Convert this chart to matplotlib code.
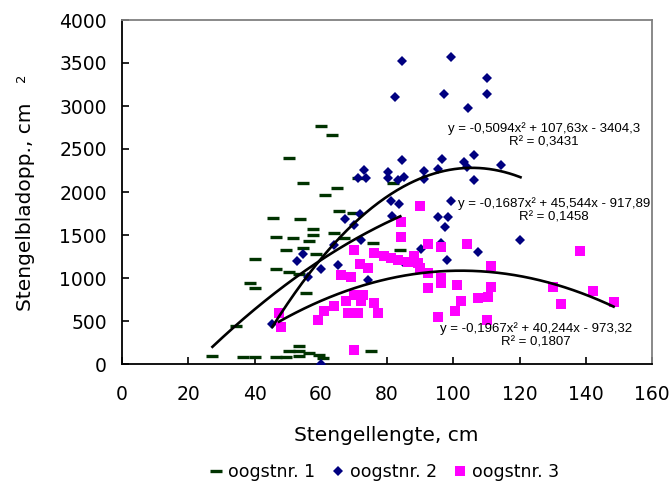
import numpy as np
import matplotlib
matplotlib.use("Agg")
import matplotlib.pyplot as plt
from matplotlib.lines import Line2D

# Harvest 1 (oogstnr. 1)
len_1 = [60.0, 63.3, 50.3, 54.5, 64.8, 61.2, 65.5, 45.5, 53.6, 57.6, 57.6, 46.4,
         51.5, 56.4, 69.7, 63.9, 67.0, 49.4, 54.5, 58.5, 75.8, 84.0, 40.3, 46.4,
         50.3, 53.3, 38.5, 40.3, 55.5, 34.5, 27.3, 36.4, 40.3, 46.4, 49.4, 53.3,
         50.3, 53.3, 56.4, 53.3, 59.4, 60.6, 75.2, 71.2, 81.8]
area_1 = [2767, 2663, 2395, 2105, 2047, 1965, 1779, 1698, 1686, 1570, 1500, 1477,
          1465, 1430, 1756, 1523, 1465, 1326, 1349, 1279, 1407, 1326, 1221, 1105,
          1070, 1047, 942, 884, 826, 442, 93, 81, 81, 81, 81, 209,
          151, 151, 128, 93, 105, 70, 151, 2163, 2105]

# Harvest 2 (oogstnr. 2)
len_2 = [84.5, 99.4, 110.3, 82.4, 97.2, 110.3, 104.5, 84.5, 96.6, 106.3, 103.2,
         104.2, 114.3, 106.3, 73.1, 71.1, 73.6, 80.4, 80.4, 83.2, 85.2, 91.3, 91.3,
         95.4, 81.2, 83.5, 99.4, 81.5, 95.4, 98.4, 97.4, 67.3, 71.9, 70.1, 72.1,
         64.0, 90.3, 107.5, 120.3, 60.0, 65.1, 74.2, 84.8, 98.2, 96.4, 54.5, 52.9,
         56.0, 45.4, 60.0]
area_2 = [3527, 3566, 3329, 3105, 3136, 3136, 2980, 2372, 2384, 2430, 2345,
          2294, 2314, 2140, 2256, 2159, 2159, 2236, 2159, 2140, 2178, 2248, 2148,
          2267, 1899, 1860, 1899, 1721, 1713, 1706, 1590, 1683, 1744, 1616, 1442,
          1384, 1334, 1306, 1442, 1101, 1151, 977, 1190, 1209, 1411, 1279, 1201,
          1015, 465, 0]

# Harvest 3 (oogstnr. 3)
len_3 = [90.1, 84.2, 84.2, 92.3, 96.4, 104.2, 70.1, 76.0, 79.2, 81.2, 83.4, 86.3,
         88.3, 89.3, 71.9, 74.2, 90.1, 111.3, 66.1, 69.1, 92.3, 96.4, 92.3, 96.4,
         101.2, 111.3, 110.5, 107.5, 102.2, 100.4, 95.4, 110.3, 70.1, 72.9, 72.1,
         76.2, 67.6, 64.0, 61.0, 68.1, 71.3, 77.2, 70.1, 47.4, 48.1, 59.2, 138.3,
         130.2, 142.3, 132.5, 148.4]
area_3 = [1841, 1655, 1473, 1395, 1364, 1395, 1326, 1294, 1256, 1229, 1209, 1190,
          1256, 1171, 1163, 1113, 1113, 1140, 1035, 1015, 1055, 997, 880, 938,
          919, 899, 783, 764, 736, 616, 550, 512, 802, 802, 736,
          706, 736, 674, 620, 590, 590, 590, 163, 597, 434, 512, 1314,
          899, 849, 698, 725]

# Polynomial (order 2) trend lines: a*x^2 + b*x + c
coef_1 = (-0.1687, 45.544, -917.89)
coef_2 = (-0.5094, 107.63, -3404.3)
coef_3 = (-0.1967, 40.244, -973.32)
r2_1, r2_2, r2_3 = "0,1458", "0,3431", "0,1807"

series_names = ["oogstnr. 1", "oogstnr. 2", "oogstnr. 3"]
x_ticks = [0, 20, 40, 60, 80, 100, 120, 140, 160]
y_ticks = [0, 500, 1000, 1500, 2000, 2500, 3000, 3500, 4000]

c1, c2, c3 = "#003300", "#000080", "#FF00FF"

plt.rcParams["font.family"] = ["DejaVu Sans"]

fig = plt.figure(figsize=(6.72, 4.86), dpi=100)
ax = fig.add_axes([122 / 672, 1 - 364 / 486, 530 / 672, 344 / 486])

ax.plot(len_1, area_1, linestyle="none", marker="_", markersize=8.5,
        markeredgewidth=2.4, color=c1, zorder=3)
ax.plot(len_2, area_2, linestyle="none", marker="D", markersize=5.6,
        markeredgewidth=0, color=c2, zorder=4)
ax.plot(len_3, area_3, linestyle="none", marker="s", markersize=7.0,
        markeredgewidth=0, color=c3, zorder=5)


def fmt(v, nd):
    return f"{abs(v):.{nd}f}".replace(".", ",")


def trend(xs, coef):
    xx = np.linspace(min(xs), max(xs), 200)
    a, b, c = coef
    ax.plot(xx, a * xx ** 2 + b * xx + c, color="black", linewidth=1.9, zorder=6)


for xs, coef in ((len_1, coef_1), (len_2, coef_2), (len_3, coef_3)):
    trend(xs, coef)


def eq_label(coef, r2, nd):
    a, b, c = coef
    sign = "-" if c < 0 else "+"
    return (f"y = -{fmt(a, 4)}x\u00b2 + {fmt(b, nd[0])}x {sign} {fmt(c, nd[1])}\n"
            f"R\u00b2 = {r2}")


eq_font = dict(family="Liberation Sans", size=9.5, ha="center", va="center",
               multialignment="center", linespacing=1.2, zorder=7)
ax.text((544 - 122) / 530, (364 - 135) / 344, eq_label(coef_2, r2_2, (2, 1)),
        transform=ax.transAxes, **eq_font)
ax.text((554 - 122) / 530, (364 - 210.5) / 344, eq_label(coef_1, r2_1, (3, 2)),
        transform=ax.transAxes, **eq_font)
ax.text((536 - 122) / 530, (364 - 335.5) / 344, eq_label(coef_3, r2_3, (3, 2)),
        transform=ax.transAxes, **eq_font)

ax.set_xlim(0, 160)
ax.set_ylim(0, 4000)
ax.set_xticks(x_ticks)
ax.set_yticks(y_ticks)
ax.tick_params(axis="both", direction="in", length=5, width=1.2, labelsize=13.5,
               colors="black")
ax.tick_params(axis="x", pad=15)
ax.tick_params(axis="y", pad=11)

for side in ("left", "bottom"):
    ax.spines[side].set_color("black")
    ax.spines[side].set_linewidth(1.3)
for side in ("top", "right"):
    ax.spines[side].set_color("#808080")
    ax.spines[side].set_linewidth(1.3)

fig.text(386 / 672, 1 - 435 / 486, "Stengellengte, cm", fontsize=14.5,
         ha="center", va="center")
fig.text(26 / 672, 1 - 207 / 486, "Stengelbladopp., cm", fontsize=14.5,
         rotation=90, ha="center", va="center")
fig.text(22 / 672, 1 - 78 / 486, "2", fontsize=9.5, rotation=90,
         ha="center", va="center")

handles = [
    Line2D([], [], linestyle="none", marker="_", markersize=8.5,
           markeredgewidth=2.4, color=c1),
    Line2D([], [], linestyle="none", marker="D", markersize=5.6,
           markeredgewidth=0, color=c2),
    Line2D([], [], linestyle="none", marker="s", markersize=7.0,
           markeredgewidth=0, color=c3),
]
fig.legend(handles, series_names, loc="center", ncol=3, frameon=False,
           bbox_to_anchor=(384 / 672, 1 - 472 / 486), fontsize=12.5,
           handlelength=0.8, handletextpad=0.3, columnspacing=0.9,
           borderpad=0.1)

fig.savefig("out.png", dpi=100)
